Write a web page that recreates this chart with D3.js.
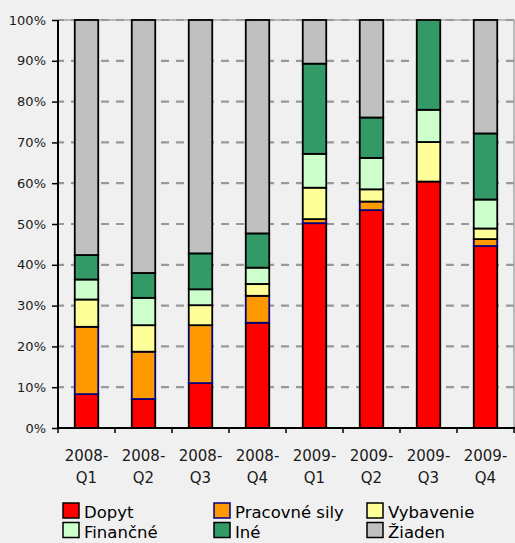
<!DOCTYPE html>
<html>
<head>
<meta charset="utf-8">
<script src="https://cdn.jsdelivr.net/npm/d3@7"></script>
<style>
  html, body { margin: 0; padding: 0; background: #f0f0f0; }
  svg { display: block; font-family: "DejaVu Sans", Verdana, sans-serif; }
</style>
</head>
<body>
<svg id="chart" width="515" height="543"></svg>
<script>
// Quarters on the x axis
const quarters = ["2008-Q1", "2008-Q2", "2008-Q3", "2008-Q4", "2009-Q1", "2009-Q2", "2009-Q3", "2009-Q4"];

// Share of answers per factor (%), stacked bottom to top
const dopyt        = [8.3, 7.1, 11.0, 25.8, 50.2, 53.4, 60.4, 44.6];
const pracovneSily = [16.5, 11.6, 14.2, 6.6, 1.0, 2.1, 0.0, 1.7];
const vybavenie    = [6.7, 6.5, 4.9, 2.9, 7.7, 3.0, 9.7, 2.6];
const financne     = [4.9, 6.7, 3.9, 4.0, 8.3, 7.7, 7.9, 7.1];
const ine          = [6.0, 6.1, 8.8, 8.4, 22.1, 9.9, 22.0, 16.2];
const ziaden       = [57.6, 62.0, 57.2, 52.3, 10.7, 23.9, 0.0, 27.8];

const seriesNames = ["Dopyt", "Pracovné sily", "Vybavenie", "Finančné", "Iné", "Žiaden"];
const seriesValues = [dopyt, pracovneSily, vybavenie, financne, ine, ziaden];
const seriesFill = ["#ff0000", "#ff9900", "#ffff99", "#ccffcc", "#339966", "#c0c0c0"];
const seriesStroke = ["#000000", "#000080", "#000000", "#000000", "#000000", "#000000"];

const yTicks = [0, 10, 20, 30, 40, 50, 60, 70, 80, 90, 100];

// Legend grid: three columns, two rows
const legendOrder = [0, 1, 2, 3, 4, 5];

const svg = d3.select("#chart");
const plotLeft = 58, plotRight = 514, plotTop = 20, plotBottom = 428;

const x = d3.scaleBand()
  .domain(quarters)
  .range([plotLeft, plotRight])
  .paddingInner(0.588)
  .paddingOuter(0.294);

const y = d3.scaleLinear().domain([0, 100]).range([plotBottom, plotTop]);

// Build rows for d3.stack
const rows = quarters.map((q, i) => {
  const r = { quarter: q };
  seriesNames.forEach((s, k) => { r[s] = seriesValues[k][i]; });
  return r;
});
const stacked = d3.stack().keys(seriesNames)(rows);

// Plot-area frame (top and right edges)
svg.append("line")
  .attr("x1", plotLeft).attr("x2", plotRight).attr("y1", y(100)).attr("y2", y(100))
  .attr("stroke", "#a8a8a8").attr("stroke-width", 1.5);
svg.append("line")
  .attr("x1", plotRight).attr("x2", plotRight).attr("y1", plotTop).attr("y2", plotBottom)
  .attr("stroke", "#a8a8a8").attr("stroke-width", 1.5);

// Dashed horizontal gridlines
svg.append("g")
  .selectAll("line")
  .data(yTicks.filter(t => t > 0))
  .join("line")
  .attr("x1", plotLeft).attr("x2", plotRight)
  .attr("y1", d => y(d)).attr("y2", d => y(d))
  .attr("stroke", "#999999")
  .attr("stroke-width", 2.2)
  .attr("stroke-dasharray", "8,7")
  .attr("stroke-dashoffset", 2);

// Stacked bars
svg.append("g")
  .selectAll("g")
  .data(stacked)
  .join("g")
  .attr("fill", (d, k) => seriesFill[k])
  .attr("stroke", (d, k) => seriesStroke[k])
  .attr("stroke-width", 1.8)
  .selectAll("rect")
  .data(d => d.filter(p => p[1] - p[0] > 0))
  .join("rect")
  .attr("x", p => x(p.data.quarter))
  .attr("width", x.bandwidth())
  .attr("y", p => y(p[1]))
  .attr("height", p => y(p[0]) - y(p[1]));

// Y axis
const yAxis = svg.append("g")
  .attr("transform", `translate(${plotLeft},0)`)
  .call(d3.axisLeft(y).tickValues(yTicks).tickFormat(d => d + "%").tickSize(6).tickPadding(6));
yAxis.select(".domain").attr("stroke", "#000").attr("stroke-width", 2)
  .attr("d", `M0,${plotTop}V${plotBottom + 1}`);
yAxis.selectAll(".tick line").attr("stroke", "#000").attr("stroke-width", 1.5);
yAxis.selectAll(".tick text")
  .attr("font-size", 13)
  .attr("font-family", "DejaVu Sans, Verdana, sans-serif")
  .attr("fill", "#1a1a1a");

// X axis: baseline, ticks at category boundaries, two-line labels
svg.append("line")
  .attr("x1", plotLeft - 1).attr("x2", plotRight + 1).attr("y1", plotBottom).attr("y2", plotBottom)
  .attr("stroke", "#000").attr("stroke-width", 2);
const bounds = quarters.map(q => x(q) - x.step() * x.paddingOuter()).concat([plotRight]);
svg.append("g")
  .selectAll("line")
  .data(bounds)
  .join("line")
  .attr("x1", d => d).attr("x2", d => d)
  .attr("y1", plotBottom).attr("y2", plotBottom + 5)
  .attr("stroke", "#000").attr("stroke-width", 1.5);

const xLabels = svg.append("g")
  .selectAll("text")
  .data(quarters)
  .join("text")
  .attr("x", d => x(d) + x.bandwidth() / 2)
  .attr("text-anchor", "middle")
  .attr("font-size", 15)
  .attr("fill", "#1a1a1a");
xLabels.append("tspan")
  .attr("x", d => x(d) + x.bandwidth() / 2)
  .attr("y", 461)
  .text(d => d.split("-")[0] + "-");
xLabels.append("tspan")
  .attr("x", d => x(d) + x.bandwidth() / 2)
  .attr("y", 483)
  .text(d => d.split("-")[1]);

// Legend
const legendCols = [63, 214, 367];
const legendRows = [503, 522.5];
const legend = svg.append("g")
  .selectAll("g")
  .data(legendOrder)
  .join("g")
  .attr("transform", (k, i) => `translate(${legendCols[i % 3]},${legendRows[Math.floor(i / 3)]})`);
legend.append("rect")
  .attr("width", 16).attr("height", 15)
  .attr("fill", k => seriesFill[k])
  .attr("stroke", k => seriesStroke[k])
  .attr("stroke-width", 1.5);
legend.append("text")
  .attr("x", 21).attr("y", 15)
  .attr("font-size", 16.5)
  .attr("fill", "#000")
  .text(k => seriesNames[k]);
</script>
</body>
</html>
